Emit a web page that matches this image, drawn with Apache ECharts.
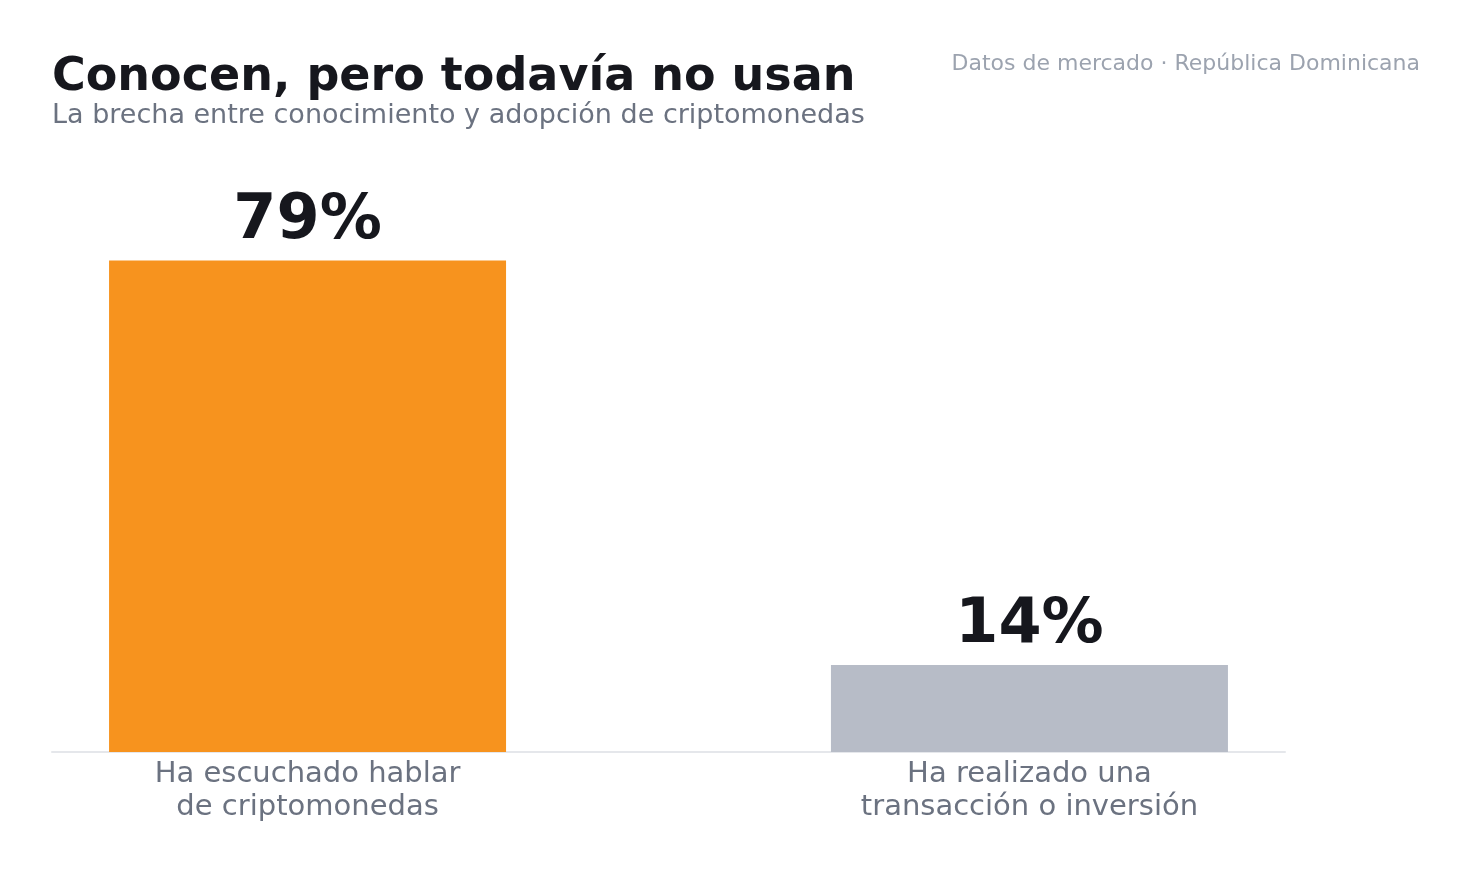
<!DOCTYPE html>
<html>
<head>
<meta charset="utf-8">
<script src="https://cdn.jsdelivr.net/npm/echarts@6/dist/echarts.min.js"></script>
<style>
  html, body { margin: 0; padding: 0; background: #ffffff; }
  #chart { width: 1472px; height: 873px; }
</style>
</head>
<body>
<div id="chart"></div>
<script>
const categories = ["Ha escuchado hablar\nde criptomonedas", "Ha realizado una\ntransacción o inversión"];
const values = [79, 14];
const barColors = ["#f7931e", "#b7bcc7"];

const chart = echarts.init(document.getElementById("chart"));
const font = "DejaVu Sans";

chart.setOption({
  animation: false,
  backgroundColor: "#ffffff",
  textStyle: { fontFamily: font },
  title: [
    {
      text: "Conocen, pero todavía no usan",
      left: 47,
      top: 50,
      textStyle: { fontFamily: font, fontSize: 46, fontWeight: "bold", color: "#16171d" },
    },
    {
      text: "La brecha entre conocimiento y adopción de criptomonedas",
      left: 47,
      top: 97,
      textStyle: { fontFamily: font, fontSize: 27, fontWeight: "normal", color: "#6b7280" },
    },
    {
      text: "Datos de mercado · República Dominicana",
      right: 47,
      top: 48,
      textStyle: { fontFamily: font, fontSize: 22, fontWeight: "normal", color: "#9ca3af" },
    },
  ],
  grid: { left: 52, right: 187, top: 130, bottom: 121 },
  xAxis: {
    type: "value",
    min: -0.354,
    max: 1.354,
    splitLine: { show: false },
    axisTick: { show: false },
    axisLine: { show: true, lineStyle: { color: "#e5e7eb", width: 2 } },
    axisLabel: {
      customValues: [0, 1],
      formatter: (v) => categories[Math.round(v)],
      fontFamily: font,
      fontSize: 29,
      lineHeight: 33,
      color: "#6b7280",
      margin: 6,
    },
  },
  yAxis: {
    type: "value",
    min: 0,
    max: 100,
    show: false,
  },
  series: [
    {
      type: "bar",
      barWidth: 397,
      data: values.map((v, i) => ({ value: [i, v], itemStyle: { color: barColors[i] } })),
      label: {
        show: true,
        position: "top",
        distance: 8,
        formatter: (p) => p.value[1] + "%",
        fontFamily: font,
        fontSize: 62,
        fontWeight: "bold",
        color: "#16171d",
      },
    },
  ],
});

window.addEventListener("resize", () => chart.resize());
</script>
</body>
</html>
